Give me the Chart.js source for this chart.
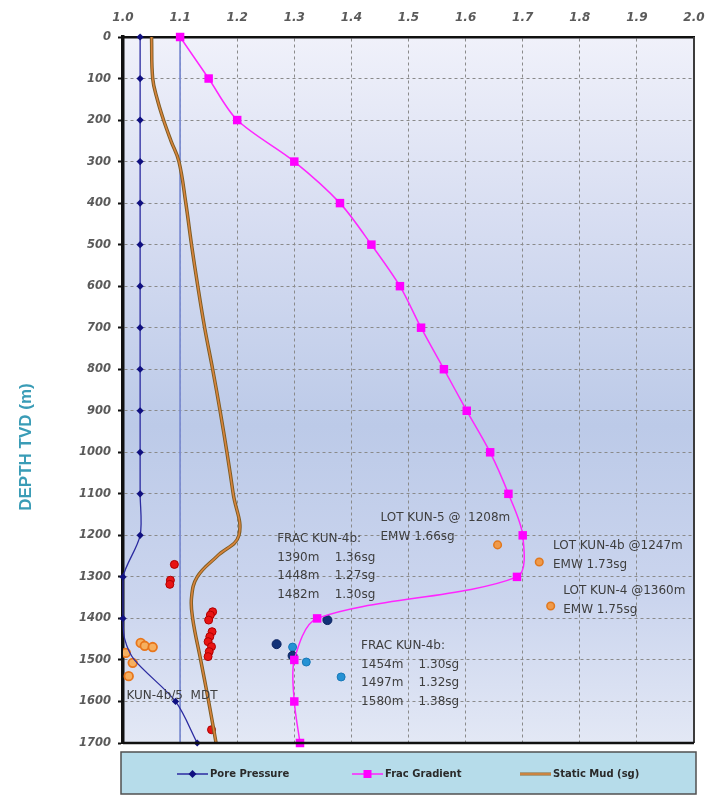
<!DOCTYPE html>
<html><head><meta charset="utf-8">
<script src="https://cdn.jsdelivr.net/npm/chart.js@4/dist/chart.umd.min.js"></script>
<style>html,body{margin:0;padding:0;background:#fff}</style>
</head><body>
<canvas id="c" width="719" height="796"></canvas>
<script>
// ---- axis ----
const xTickValues = [1.0,1.1,1.2,1.3,1.4,1.5,1.6,1.7,1.8,1.9,2.0];
const depthTicks = [0,100,200,300,400,500,600,700,800,900,1000,1100,1200,1300,1400,1500,1600,1700];

// ---- Pore Pressure (sg) ----
const poreDepth  = [0,100,200,300,400,500,600,700,800,900,1000,1100,1200,1300,1400,1450,1500,1600,1700];
const poreValue  = [1.03,1.03,1.03,1.03,1.03,1.03,1.03,1.03,1.03,1.03,1.03,1.03,1.03,1.0,1.0,1.003,1.02,1.092,1.13];
const poreMarked = [1,1,1,1,1,1,1,1,1,1,1,1,1,1,1,0,0,1,1];

// ---- Frac Gradient (sg) ----
const fracDepth = [0,100,200,300,400,500,600,700,800,900,1000,1100,1200,1300,1400,1500,1600,1700];
const fracValue = [1.10,1.15,1.20,1.30,1.38,1.435,1.485,1.522,1.562,1.602,1.643,1.675,1.70,1.69,1.34,1.30,1.30,1.31];

// ---- Static Mud (sg) ----
const mudDepth = [0,100,150,200,250,300,400,500,600,700,800,900,1000,1100,1200,1250,1300,1350,1400,1500,1600,1700];
const mudValue = [1.05,1.052,1.06,1.071,1.084,1.098,1.11,1.12,1.131,1.143,1.157,1.17,1.182,1.193,1.203,1.165,1.13,1.12,1.122,1.136,1.15,1.163];

// ---- reference line ----
const refLineValue = 1.1;

// ---- measured points ----
const redPts = [[1.09,1270],[1.083,1308],[1.082,1318],[1.157,1384],[1.153,1392],[1.150,1404],[1.156,1432],[1.152,1444],[1.149,1456],[1.155,1468],[1.151,1480],[1.149,1492],[1.155,1668]];
const orangeMdtPts = [[1.031,1459],[1.038,1466],[1.052,1469],[1.005,1483],[1.017,1507],[1.010,1539]];
const lotPts = [[1.656,1223],[1.729,1264],[1.749,1370]];
const fracNavyPts = [[1.358,1404],[1.269,1462],[1.297,1490]];
const fracBluePts = [[1.297,1469],[1.321,1505],[1.382,1541]];

// ---- annotations (anchor in data units) ----
const notes = [
  {x:1.451, d:1158, lines:['LOT KUN-5 @  1208m','EMW 1.66sg'], gap:19},
  {x:1.753, d:1226, lines:['LOT KUN-4b @1247m','EMW 1.73sg'], gap:19},
  {x:1.771, d:1333, lines:['LOT KUN-4 @1360m','EMW 1.75sg'], gap:19},
  {x:1.270, d:1209, lines:['FRAC KUN-4b:','1390m    1.36sg','1448m    1.27sg','1482m    1.30sg'], gap:18.5},
  {x:1.417, d:1467, lines:['FRAC KUN-4b:','1454m    1.30sg','1497m    1.32sg','1580m    1.38sg'], gap:18.5},
  {x:1.006, d:1586, lines:['KUN-4b/5  MDT'], gap:18}
];
const legendItems = ['Pore Pressure','Frac Gradient','Static Mud (sg)'];
const yTitle = 'DEPTH TVD (m)';

const toXY = (vals, deps) => vals.map((v,i)=>({x:v, y:deps[i]}));
const pairs = arr => arr.map(p=>({x:p[0], y:p[1]}));

const bgPlugin = {
  id:'bg',
  beforeDraw(chart){
    const {ctx, chartArea:a} = chart;
    ctx.save();
    ctx.fillStyle='#fff'; ctx.fillRect(0,0,chart.width,chart.height);
    const g = ctx.createLinearGradient(0,a.top,0,a.bottom);
    g.addColorStop(0,'#f0f1fa');
    g.addColorStop(0.25,'#d8def2');
    g.addColorStop(0.55,'#bccae8');
    g.addColorStop(0.8,'#cbd5ee');
    g.addColorStop(1,'#e3e8f5');
    ctx.fillStyle=g; ctx.fillRect(a.left,a.top,a.right-a.left,a.bottom-a.top);
    ctx.restore();
  },
  afterDraw(chart){
    const {ctx, chartArea:a, scales} = chart;
    ctx.save();
    // right & bottom frame
    ctx.strokeStyle='#3c3c3c'; ctx.lineWidth=2;
    ctx.beginPath(); ctx.moveTo(a.right,a.top); ctx.lineTo(a.right,a.bottom); ctx.stroke();
    ctx.strokeStyle='#111'; ctx.lineWidth=2.5;
    ctx.beginPath(); ctx.moveTo(a.left,a.bottom); ctx.lineTo(a.right,a.bottom); ctx.stroke();
    // annotations
    ctx.fillStyle='#3e3e3e'; ctx.font='12px "DejaVu Sans"'; ctx.textBaseline='middle'; ctx.textAlign='left';
    notes.forEach(n=>{
      const px = scales.x.getPixelForValue(n.x), py = scales.y.getPixelForValue(n.d);
      n.lines.forEach((t,i)=>ctx.fillText(t, px, py + i*n.gap));
    });
    // y title
    ctx.save();
    ctx.translate(26, (a.top+a.bottom)/2 + 57);
    ctx.rotate(-Math.PI/2);
    ctx.fillStyle='#3a9cb6'; ctx.font='bold 17px "Liberation Sans"'; ctx.textAlign='center'; ctx.textBaseline='middle';
    ctx.fillText(yTitle,0,0);
    ctx.restore();
    // legend
    const bx=a.left-2, by=a.bottom+9, bw=a.right-a.left+4, bh=chart.height-by-2;
    ctx.fillStyle='#b6dcea'; ctx.fillRect(bx,by,bw,bh);
    ctx.strokeStyle='#505050'; ctx.lineWidth=1.5; ctx.strokeRect(bx,by,bw,bh);
    const cy = by + bh/2 + 1;
    const starts=[bx+56, bx+231, bx+399];
    ctx.font='bold 10px "DejaVu Sans"'; ctx.textBaseline='middle'; ctx.textAlign='left';
    // pore
    let s=starts[0];
    ctx.strokeStyle='#2b2ba0'; ctx.lineWidth=1.5; ctx.beginPath(); ctx.moveTo(s,cy); ctx.lineTo(s+31,cy); ctx.stroke();
    ctx.fillStyle='#101080'; ctx.beginPath(); ctx.moveTo(s+15.5,cy-4); ctx.lineTo(s+19.5,cy); ctx.lineTo(s+15.5,cy+4); ctx.lineTo(s+11.5,cy); ctx.closePath(); ctx.fill();
    ctx.fillStyle='#2a2a2a'; ctx.fillText(legendItems[0], s+33, cy);
    // frac
    s=starts[1];
    ctx.strokeStyle='#ff22ff'; ctx.beginPath(); ctx.moveTo(s,cy); ctx.lineTo(s+31,cy); ctx.stroke();
    ctx.fillStyle='#ff00ff'; ctx.fillRect(s+11.5,cy-4,8,8);
    ctx.fillStyle='#2a2a2a'; ctx.fillText(legendItems[1], s+33, cy);
    // mud
    s=starts[2];
    ctx.strokeStyle='#8a6226'; ctx.lineWidth=3; ctx.beginPath(); ctx.moveTo(s,cy); ctx.lineTo(s+31,cy); ctx.stroke();
    ctx.strokeStyle='#e0904a'; ctx.lineWidth=1.5; ctx.beginPath(); ctx.moveTo(s,cy); ctx.lineTo(s+31,cy); ctx.stroke();
    ctx.fillStyle='#2a2a2a'; ctx.fillText(legendItems[2], s+33, cy);
    ctx.restore();
  }
};

const chart = new Chart(document.getElementById('c'), {
  type:'scatter',
  data:{ datasets:[
    {label:'ref', data:[{x:refLineValue,y:depthTicks[0]},{x:refLineValue,y:depthTicks[depthTicks.length-1]}], showLine:true,
     borderColor:'#7b8bd0', borderWidth:1, pointRadius:0, order:10},
    {label:'red', data:pairs(redPts), backgroundColor:'#e81414', borderColor:'#b00000', borderWidth:1, pointRadius:4, order:6},
    {label:'mdt', data:pairs(orangeMdtPts), backgroundColor:'#f6b060', borderColor:'#e8761c', borderWidth:1.8, pointRadius:4.3, order:6},
    {label:'lot', data:pairs(lotPts), backgroundColor:'#f09a4a', borderColor:'#e0781e', borderWidth:1.5, pointRadius:3.8, order:6},
    {label:'fracNavy', data:pairs(fracNavyPts), backgroundColor:'#123278', borderColor:'#0b2260', borderWidth:1, pointRadius:4.5, order:6},
    {label:'fracBlue', data:pairs(fracBluePts), backgroundColor:'#2592d4', borderColor:'#1878b8', borderWidth:1, pointRadius:4, order:6},
    {label:'Static Mud (sg)', data:toXY(mudValue,mudDepth), showLine:true, borderColor:'#7d5c22', borderWidth:3.5, pointRadius:0, tension:0.4, order:4},
    {label:'mudCore', data:toXY(mudValue,mudDepth), showLine:true, borderColor:'#d9843c', borderWidth:1.6, pointRadius:0, tension:0.4, order:3},
    {label:'Pore Pressure', data:toXY(poreValue,poreDepth), showLine:true, borderColor:'#2b2ba0', borderWidth:1.3, tension:0.3,
     pointStyle:'rectRot', pointRadius:c=>poreMarked[c.dataIndex]?3.6:0, backgroundColor:'#101080', pointBorderWidth:0, clip:false, order:2},
    {label:'Frac Gradient', data:toXY(fracValue,fracDepth), showLine:true, borderColor:'#ff26ff', borderWidth:1.5, tension:0.3,
     pointStyle:'rect', pointRadius:6, backgroundColor:'#ff00ff', pointBorderWidth:0, clip:false, order:1}
  ]},
  options:{
    responsive:false, animation:false,
    layout:{padding:{left:0,top:0,right:25,bottom:53}},
    plugins:{legend:{display:false}, tooltip:{enabled:false}},
    scales:{
      x:{type:'linear', position:'top', min:xTickValues[0], max:xTickValues[xTickValues.length-1],
        afterBuildTicks(s){ s.ticks = xTickValues.map(v=>({value:v})); },
        afterFit(s){ s.height = 37; },
        ticks:{callback:v=>Number(v).toFixed(1), color:'#5a5a5a', font:{family:'DejaVu Sans', size:12, style:'italic', weight:'bold'}, padding:12, maxRotation:0},
        grid:{color:'#8a8a8a', lineWidth:1, drawTicks:false},
        border:{color:'#111', width:2.5, dash:[3,3]}
      },
      y:{type:'linear', reverse:true, min:depthTicks[0], max:depthTicks[depthTicks.length-1],
        afterBuildTicks(s){ s.ticks = depthTicks.map(v=>({value:v})); },
        afterFit(s){ s.width = 123; },
        ticks:{callback:v=>String(v), color:'#5a5a5a', font:{family:'DejaVu Sans', size:11.5, style:'italic', weight:'bold'}, padding:7},
        grid:{color:'#8a8a8a', lineWidth:1, drawTicks:true, tickLength:5, tickColor:'#111', tickWidth:2, tickBorderDash:[]},
        border:{color:'#111', width:3.5, dash:[3,3]}
      }
    }
  },
  plugins:[bgPlugin]
});
</script>
</body></html>
